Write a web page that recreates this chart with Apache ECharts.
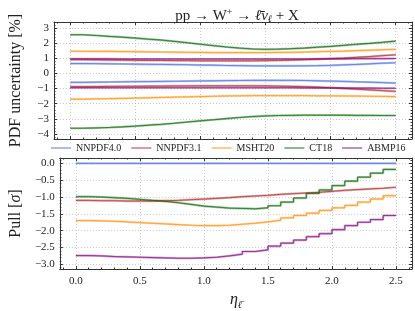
<!DOCTYPE html>
<html><head><meta charset="utf-8">
<script src="https://cdn.jsdelivr.net/npm/echarts@6/dist/echarts.min.js"></script>
<style>html,body{margin:0;padding:0;background:#fff}#c{width:415px;height:311px}</style>
</head><body><div id="c"></div>
<script>
// bin edges in eta
const etaEdges = [0.0,0.1,0.2,0.3,0.4,0.5,0.6,0.7,0.8,0.9,1.0,1.1,1.2,1.3,1.4,1.5,1.6,1.7,1.8,1.9,2.0,2.1,2.2,2.3,2.4,2.5];
const pdfNames = ['NNPDF4.0','NNPDF3.1','MSHT20','CT18','ABMP16'];
const pdfColors = ['#4169E1','#B22222','#FF8C00','#006400','#800080'];

// PDF uncertainty [%] upper / lower per bin
const nnpdf40Up = [0.65,0.64,0.63,0.62,0.61,0.60,0.59,0.58,0.57,0.55,0.54,0.52,0.51,0.50,0.49,0.49,0.49,0.50,0.51,0.53,0.56,0.59,0.63,0.67,0.70];
const nnpdf40Dn = [-0.59,-0.58,-0.57,-0.56,-0.55,-0.54,-0.53,-0.52,-0.51,-0.50,-0.49,-0.48,-0.47,-0.46,-0.46,-0.46,-0.46,-0.47,-0.49,-0.51,-0.53,-0.56,-0.58,-0.61,-0.64];
const nnpdf31Up = [0.90,0.89,0.88,0.87,0.86,0.85,0.85,0.84,0.84,0.83,0.83,0.83,0.83,0.83,0.84,0.85,0.87,0.90,0.93,0.97,1.01,1.06,1.11,1.17,1.23];
const nnpdf31Dn = [-0.88,-0.87,-0.86,-0.85,-0.85,-0.84,-0.84,-0.83,-0.83,-0.82,-0.82,-0.82,-0.82,-0.82,-0.83,-0.84,-0.86,-0.88,-0.91,-0.95,-0.99,-1.04,-1.09,-1.14,-1.19];
const msht20Up = [1.46,1.45,1.45,1.44,1.43,1.42,1.41,1.40,1.39,1.38,1.37,1.37,1.37,1.37,1.37,1.38,1.39,1.41,1.43,1.45,1.47,1.50,1.53,1.56,1.59];
const msht20Dn = [-1.70,-1.68,-1.67,-1.65,-1.63,-1.61,-1.59,-1.57,-1.55,-1.53,-1.51,-1.49,-1.48,-1.47,-1.47,-1.47,-1.47,-1.47,-1.48,-1.48,-1.49,-1.50,-1.51,-1.52,-1.53];
const ct18Up = [2.55,2.50,2.44,2.39,2.33,2.26,2.20,2.11,2.02,1.92,1.83,1.74,1.67,1.61,1.59,1.60,1.63,1.67,1.73,1.78,1.85,1.92,1.98,2.05,2.13];
const ct18Dn = [-3.62,-3.60,-3.57,-3.53,-3.48,-3.42,-3.36,-3.29,-3.21,-3.13,-3.06,-2.98,-2.91,-2.85,-2.81,-2.78,-2.77,-2.76,-2.76,-2.76,-2.76,-2.77,-2.77,-2.78,-2.78];
const abmp16Up = [0.96,0.96,0.96,0.95,0.95,0.95,0.95,0.95,0.95,0.95,0.95,0.95,0.95,0.95,0.95,0.95,0.95,0.95,0.96,0.96,0.96,0.97,0.97,0.97,0.98];
const abmp16Dn = [-0.95,-0.95,-0.95,-0.95,-0.95,-0.95,-0.95,-0.95,-0.95,-0.95,-0.95,-0.95,-0.95,-0.95,-0.95,-0.95,-0.95,-0.96,-0.96,-0.96,-0.97,-0.97,-0.97,-0.98,-0.98];

// Pull [sigma] per bin
const nnpdf40Pull = [0,0,0,0,0,0,0,0,0,0,0,0,0,0,0,0,0,0,0,0,0,0,0,0,0];
const nnpdf31Pull = [-1.10,-1.11,-1.11,-1.12,-1.12,-1.12,-1.11,-1.10,-1.08,-1.06,-1.04,-1.02,-0.99,-0.97,-0.95,-0.92,-0.90,-0.88,-0.86,-0.83,-0.80,-0.78,-0.76,-0.74,-0.71];
const msht20Pull = [-1.70,-1.71,-1.72,-1.74,-1.76,-1.78,-1.80,-1.82,-1.84,-1.85,-1.85,-1.84,-1.81,-1.78,-1.74,-1.69,-1.62,-1.55,-1.48,-1.40,-1.32,-1.25,-1.15,-1.06,-0.96];
const ct18Pull = [-0.99,-1.00,-1.02,-1.04,-1.07,-1.10,-1.13,-1.17,-1.22,-1.27,-1.30,-1.33,-1.34,-1.35,-1.32,-1.26,-1.15,-1.03,-0.89,-0.79,-0.66,-0.53,-0.41,-0.29,-0.18];
const abmp16Pull = [-2.74,-2.75,-2.77,-2.78,-2.79,-2.80,-2.81,-2.82,-2.82,-2.81,-2.79,-2.75,-2.70,-2.62,-2.57,-2.46,-2.37,-2.28,-2.18,-2.09,-1.97,-1.85,-1.75,-1.67,-1.55];

const uncUp = [nnpdf40Up, nnpdf31Up, msht20Up, ct18Up, abmp16Up];
const uncDn = [nnpdf40Dn, nnpdf31Dn, msht20Dn, ct18Dn, abmp16Dn];
const pulls = [nnpdf40Pull, nnpdf31Pull, msht20Pull, ct18Pull, abmp16Pull];

function steps(vals){ return etaEdges.map((x,i)=>[x, vals[Math.min(i, vals.length-1)]]); }
function hexA(h,a){const r=parseInt(h.slice(1,3),16),g=parseInt(h.slice(3,5),16),b=parseInt(h.slice(5,7),16);return `rgba(${r},${g},${b},${a})`;}

const FONT = '"Liberation Serif", "DejaVu Serif", serif';
const TXT = '#222';
const FRAME = '#333';
const minus = s => s.replace('-', '\u2212');

const series = [];
function addStep(name, color, vals, xi, yi){
  series.push({name, type:'line', step:'end', xAxisIndex:xi, yAxisIndex:yi, data:steps(vals), symbol:'none',
    lineStyle:{color:hexA(color,0.4), width:2.2}, itemStyle:{color:hexA(color,0.4)}, z:2});
  series.push({name, type:'line', step:'end', xAxisIndex:xi, yAxisIndex:yi, data:steps(vals), symbol:'none',
    lineStyle:{color:color, width:0.9, opacity:0.75}, itemStyle:{color:hexA(color,0.4)}, z:3});
}
pdfNames.forEach((n,k)=>{
  addStep(n, pdfColors[k], uncUp[k], 0, 0);
  addStep(n, pdfColors[k], uncDn[k], 0, 0);
  addStep(n, pdfColors[k], pulls[k], 2, 2);
});

const grids = [
  {left:53, right:3, top:22, height:117},
  {left:53, right:3, top:158, height:117}
];

function xAx(grid, pos, labels){
  return {type:'value', gridIndex:grid, position:pos, min:-0.125, max:2.625, splitNumber:5,
    axisLine:{show:true, onZero:false, lineStyle:{color:FRAME, width:1}},
    axisTick:{show:true, inside:true, length:3, lineStyle:{color:FRAME}},
    minorTick:{show:true, splitNumber:5, length:1.5, lineStyle:{color:FRAME}},
    splitLine:{show:pos==='bottom', lineStyle:{color:'#bbb', type:[1,2], width:0.8}},
    axisLabel:{show:labels, showMinLabel:false, showMaxLabel:false, color:TXT, fontFamily:FONT, fontSize:11, margin:7,
      formatter:v=>v.toFixed(1)}};
}
function yAx(grid, pos, labels, min, max, split, fmt){
  return {type:'value', gridIndex:grid, position:pos, min, max, splitNumber:split,
    axisLine:{show:true, onZero:false, lineStyle:{color:FRAME, width:1}},
    axisTick:{show:true, inside:true, length:3, lineStyle:{color:FRAME}},
    minorTick:{show:true, splitNumber:5, length:1.5, lineStyle:{color:FRAME}},
    splitLine:{show:pos==='left', lineStyle:{color:'#bbb', type:[1,2], width:0.8}},
    axisLabel:{show:labels, showMinLabel:false, showMaxLabel:false, color:TXT, fontFamily:FONT, fontSize:11, margin:5, formatter:fmt}};
}

const xAxes = [xAx(0,'bottom',false), xAx(0,'top',false), xAx(1,'bottom',true), xAx(1,'top',false)];
xAxes[2].name = '{i|η}{s|ℓ̄}';
xAxes[2].nameLocation = 'middle';
xAxes[2].nameGap = 21;
xAxes[2].nameTextStyle = {color:TXT, fontFamily:FONT, rich:{i:{fontSize:16, fontStyle:'italic', fontFamily:FONT, color:TXT}, s:{fontSize:10, fontStyle:'italic', fontFamily:FONT, color:TXT, padding:[10,0,0,0]}}};

const fmtTop = v => minus(String(Math.round(v)));
const fmtBot = v => { const s = v.toFixed(1); return s==='-0.0' ? '0.0' : minus(s); };
const yAxes = [yAx(0,'left',true,-4.33,3.39,7,fmtTop), yAx(0,'right',false,-4.33,3.39,7,fmtTop),
               yAx(1,'left',true,-3.14,0.16,7,fmtBot), yAx(1,'right',false,-3.14,0.16,7,fmtBot)];
yAxes[0].name = 'PDF uncertainty [%]';
yAxes[0].nameLocation = 'middle';
yAxes[0].nameGap = 30;
yAxes[0].nameTextStyle = {color:TXT, fontFamily:FONT, fontSize:16};
yAxes[2].name = '{n|Pull [}{i|σ}{n|]}';
yAxes[2].nameLocation = 'middle';
yAxes[2].nameGap = 30;
yAxes[2].nameTextStyle = {color:TXT, fontFamily:FONT, rich:{n:{fontSize:16, fontFamily:FONT, color:TXT}, i:{fontSize:16, fontStyle:'italic', fontFamily:FONT, color:TXT}}};

const option = {
  animation:false,
  backgroundColor:'#fff',
  title:{text:'{n|pp → W}{p|+}{n| → }{i|ℓ̄ν}{b|ℓ}{n| + X}', left:232, top:2, textAlign:'center',
    textStyle:{fontFamily:FONT, color:TXT, fontWeight:'normal', rich:{
      n:{fontSize:15, fontFamily:FONT, color:TXT, fontWeight:'normal'},
      p:{fontSize:10, fontFamily:FONT, color:TXT, fontWeight:'normal', padding:[0,0,8,0]},
      i:{fontSize:15, fontStyle:'italic', fontFamily:FONT, color:TXT, fontWeight:'normal'},
      b:{fontSize:10, fontStyle:'italic', fontFamily:FONT, color:TXT, fontWeight:'normal', padding:[7,0,0,0]}}}},
  legend:{top:143, left:51, width:380, itemWidth:20, itemHeight:2, itemGap:10, icon:'rect', padding:0,
    textStyle:{fontFamily:FONT, fontSize:10, color:TXT},
    data:pdfNames.map((n,k)=>({name:n, itemStyle:{color:hexA(pdfColors[k],0.45)}}))},
  grid:grids,
  xAxis:xAxes,
  yAxis:yAxes,
  series
};
const chart = echarts.init(document.getElementById('c'), null, {renderer:'canvas'});
chart.setOption(option);
</script></body></html>
